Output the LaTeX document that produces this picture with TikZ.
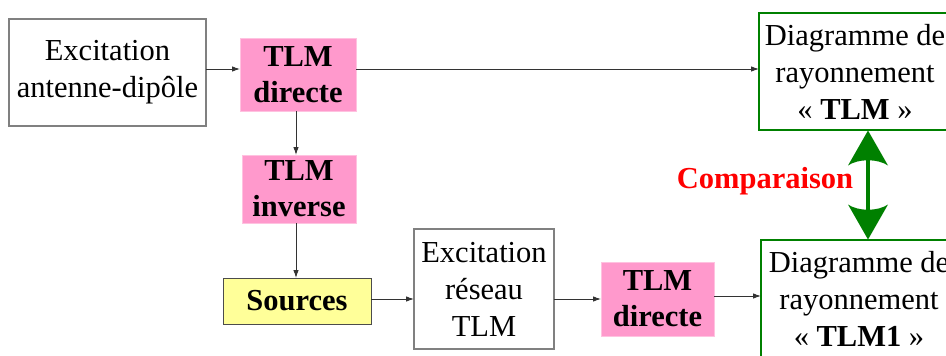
\documentclass[tikz,border=0pt]{standalone}
\usepackage{fontspec}
\setmainfont{Liberation Serif}
\usetikzlibrary{arrows.meta,calc}
\definecolor{pinkbox}{HTML}{FF99CC}
\definecolor{yellowbox}{HTML}{FFFF99}
\definecolor{darkgreen}{HTML}{008000}
\begin{document}
\begin{tikzpicture}[x=1pt,y=1pt,
  every node/.style={inner sep=0pt, outer sep=0pt, align=center, font=\fontsize{30.5}{37}\selectfont},
  whitebox/.style={draw=gray, line width=1.2pt, fill=white, rectangle},
  pinkbx/.style={fill=pinkbox, draw=pinkbox!60!white, line width=0.6pt, rectangle, font=\fontsize{30.5}{36}\selectfont\bfseries},
  yellowbx/.style={fill=yellowbox, draw=gray!60!black, line width=1pt, rectangle, font=\fontsize{30.5}{36}\selectfont\bfseries},
  greenbox/.style={draw=darkgreen, line width=2.8pt, fill=white, rectangle},
  conn/.style={draw=black!80, line width=0.9pt, -{Latex[length=8pt,width=5.5pt]}},
  shaft/.style={draw=darkgreen, line width=4pt},
  headfill/.style={fill=darkgreen}
]
\useasboundingbox (0,0) rectangle (946,-356);
\clip (0,0) rectangle (946,-356);
\fill[white] (0,0) rectangle (946,-356);

\node[whitebox, minimum width=197pt, minimum height=107pt] (exc1) at (107.5,-72.5) {Excitation\\antenne-dipôle};
\node[pinkbx, minimum width=116pt, minimum height=73pt] (tlmd1) at (298,-74.5) {TLM\\directe};
\node[pinkbx, minimum width=114pt, minimum height=68pt] (tlmi) at (299,-189) {TLM\\inverse};
\node[yellowbx, minimum width=148pt, minimum height=46pt] (src) at (297,-301) {Sources};
\node[whitebox, minimum width=140pt, minimum height=120pt] (excr) at (484,-289) {Excitation\\réseau\\TLM};
\node[pinkbx, minimum width=113pt, minimum height=74pt] (tlmd2) at (657.5,-299) {TLM\\directe};
\node[greenbox, minimum width=192pt, minimum height=117pt] (diag1) at (855,-71.5) {Diagramme de\\rayonnement\\« \textbf{TLM} »};
\node[greenbox, minimum width=196pt, minimum height=117pt] (diag2) at (859,-298.5) {Diagramme de\\rayonnement\\« \textbf{TLM1} »};
\node[text=red, font=\fontsize{30.5}{37}\selectfont\bfseries] (comp) at (765,-181) {Comparaison};

\coordinate (y1) at (0,-69);
\draw[conn] (exc1.east |- y1) -- (tlmd1.west |- y1);
\draw[conn] (tlmd1.east |- y1) -- (diag1.west |- y1);
\coordinate (x1) at (296,0);
\draw[conn] (x1 |- tlmd1.south) -- (x1 |- tlmi.north);
\draw[conn] (x1 |- tlmi.south) -- (x1 |- src.north);
\coordinate (y2) at (0,-299);
\draw[conn] (src.east |- y2) -- (excr.west |- y2);
\draw[conn] (excr.east |- y2) -- (tlmd2.west |- y2);
\coordinate (y3) at (0,-296);
\draw[conn] (tlmd2.east |- y3) -- (diag2.west |- y3);

\coordinate (x2) at (868,0);
\coordinate (ta) at ($(x2 |- diag1.south)+(0,-0.5)$);
\coordinate (tb) at ($(x2 |- diag2.north)+(0,0.5)$);
\draw[shaft] ($(ta)+(0,-25)$) -- ($(tb)+(0,25)$);
\fill[headfill] (ta) -- ($(ta)+(20,-35)$) .. controls ($(ta)+(10,-28)$) and ($(ta)+(-10,-28)$) .. ($(ta)+(-20,-35)$) -- cycle;
\fill[headfill] (tb) -- ($(tb)+(20,35)$) .. controls ($(tb)+(10,28)$) and ($(tb)+(-10,28)$) .. ($(tb)+(-20,35)$) -- cycle;
\end{tikzpicture}
\end{document}
